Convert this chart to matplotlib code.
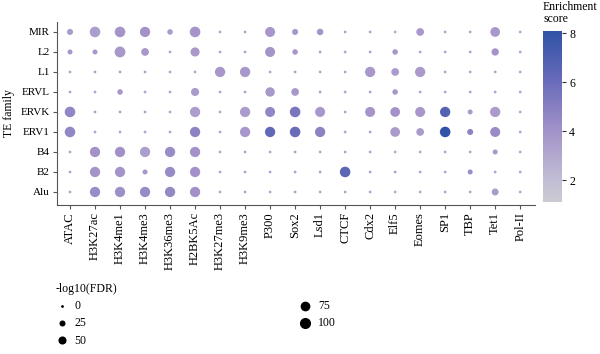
import matplotlib
matplotlib.use('Agg')
import matplotlib.pyplot as plt
import numpy as np
from matplotlib.colors import LinearSegmentedColormap, Normalize

marks = ['ATAC', 'H3K27ac', 'H3K4me1', 'H3K4me3', 'H3K36me3', 'H2BK5Ac', 'H3K27me3', 'H3K9me3',
         'P300', 'Sox2', 'Lsd1', 'CTCF', 'Cdx2', 'Elf5', 'Eomes', 'SP1', 'TBP', 'Tet1', 'Pol-II']
families = ['MIR', 'L2', 'L1', 'ERVL', 'ERVK', 'ERV1', 'B4', 'B2', 'Alu']

# -log10(FDR), one list per TE family
fdr_MIR = [25, 90, 90, 85, 20, 90, 0, 0, 80, 25, 30, 0, 0, 0, 45, 0, 0, 75, 0]
fdr_L2 = [15, 15, 95, 45, 0, 65, 0, 0, 80, 20, 0, 0, 0, 20, 0, 0, 0, 40, 0]
fdr_L1 = [0, 0, 0, 0, 0, 0, 85, 85, 0, 0, 0, 0, 85, 45, 85, 0, 0, 0, 0]
fdr_ERVL = [0, 0, 20, 0, 0, 50, 0, 0, 70, 45, 0, 0, 0, 20, 0, 0, 0, 0, 0]
fdr_ERVK = [90, 0, 0, 0, 0, 85, 0, 85, 80, 90, 80, 0, 80, 75, 80, 85, 15, 85, 0]
fdr_ERV1 = [90, 0, 0, 0, 0, 85, 0, 85, 85, 90, 85, 0, 0, 75, 45, 90, 25, 80, 0]
fdr_B4 = [0, 85, 85, 85, 85, 85, 0, 0, 0, 0, 0, 0, 0, 0, 0, 0, 0, 15, 0]
fdr_B2 = [0, 85, 85, 15, 85, 85, 0, 0, 0, 0, 0, 90, 0, 0, 0, 0, 15, 0, 0]
fdr_Alu = [0, 85, 85, 85, 85, 85, 0, 0, 0, 0, 0, 0, 0, 0, 0, 0, 0, 35, 0]

# enrichment score
enr_MIR = [3.6, 3.5, 3.9, 4.0, 3.6, 3.9, 3.2, 3.2, 3.8, 3.8, 3.9, 3.2, 3.2, 3.2, 3.7, 3.2, 3.2, 3.8, 3.2]
enr_L2 = [3.8, 3.8, 3.7, 3.8, 3.2, 3.7, 3.2, 3.2, 3.9, 3.8, 3.2, 3.2, 3.2, 3.8, 3.2, 3.2, 3.2, 3.9, 3.2]
enr_L1 = [3.2, 3.2, 3.2, 3.2, 3.2, 3.2, 3.8, 3.8, 3.2, 3.2, 3.2, 3.2, 3.7, 3.6, 3.6, 3.2, 3.2, 3.2, 3.2]
enr_ERVL = [3.2, 3.2, 3.8, 3.2, 3.2, 3.6, 3.2, 3.2, 3.7, 3.7, 3.2, 3.2, 3.2, 3.8, 3.2, 3.2, 3.2, 3.2, 3.2]
enr_ERVK = [4.6, 3.2, 3.2, 3.2, 3.2, 3.5, 3.2, 3.6, 4.6, 5.5, 3.8, 3.2, 3.9, 4.0, 3.8, 6.8, 3.6, 3.6, 3.2]
enr_ERV1 = [4.6, 3.2, 3.2, 3.2, 3.2, 4.8, 3.2, 3.8, 6.3, 6.0, 4.8, 3.2, 3.2, 3.6, 3.6, 8.0, 4.8, 4.3, 3.2]
enr_B4 = [3.2, 4.0, 4.1, 3.5, 4.3, 4.0, 3.2, 3.2, 3.2, 3.2, 3.2, 3.2, 3.2, 3.2, 3.2, 3.2, 3.2, 3.8, 3.2]
enr_B2 = [3.2, 3.9, 3.9, 3.8, 4.4, 4.0, 3.2, 3.2, 3.2, 3.2, 3.2, 6.5, 3.2, 3.2, 3.2, 3.2, 4.3, 3.2, 3.2]
enr_Alu = [3.2, 4.3, 4.2, 4.4, 4.5, 4.1, 3.2, 3.2, 3.2, 3.2, 3.2, 3.2, 3.2, 3.2, 3.2, 3.2, 3.2, 3.6, 3.2]

fdr = [fdr_MIR, fdr_L2, fdr_L1, fdr_ERVL, fdr_ERVK, fdr_ERV1, fdr_B4, fdr_B2, fdr_Alu]
enr = [enr_MIR, enr_L2, enr_L1, enr_ERVL, enr_ERVK, enr_ERV1, enr_B4, enr_B2, enr_Alu]

legend_vals = [0, 25, 50, 75, 100]

plt.rcParams['font.family'] = ['Liberation Serif', 'DejaVu Serif']

cmap = LinearSegmentedColormap.from_list(
    'enr', [(0.0, '#cbcbd3'), (0.13, '#c1bdd4'), (0.41, '#a493c9'),
            (0.70, '#6a6cba'), (1.0, '#3052a6')])
norm = Normalize(1.1, 8.1)

def size_of(v):
    return 4 + np.asarray(v) * 0.6

fig = plt.figure(figsize=(6, 3.54), dpi=100)
ax = fig.add_axes([0.095, 0.421, 0.797, 0.517])

for i, fam in enumerate(families):
    ax.scatter(np.arange(len(marks)), [i] * len(marks), s=size_of(fdr[i]),
               c=enr[i], cmap=cmap, norm=norm, linewidths=0, zorder=3)

ax.set_xlim(-0.52, 18.6)
ax.set_ylim(len(families) - 0.35, -0.5)
ax.set_xticks(range(len(marks)))
ax.set_xticklabels(marks, rotation=90, fontsize=9)
ax.set_yticks(range(len(families)))
ax.set_yticklabels(families, fontsize=8)
ax.set_ylabel('TE family', fontsize=8.5, labelpad=4)
for s in ['top', 'right']:
    ax.spines[s].set_visible(False)
for s in ['left', 'bottom']:
    ax.spines[s].set_color('#555555')
    ax.spines[s].set_linewidth(0.8)
ax.tick_params(color='#555555', length=3, width=0.8, pad=2)

# colorbar
cax = fig.add_axes([0.905, 0.429, 0.032, 0.484])
sm = plt.cm.ScalarMappable(norm=norm, cmap=cmap)
cb = fig.colorbar(sm, cax=cax, ticks=[2, 4, 6, 8])
cb.outline.set_visible(False)
cb.ax.tick_params(labelsize=8.5, length=3, width=0.8, color='#333333', pad=2)
fig.text(0.905, 0.997, 'Enrichment\nscore', fontsize=8.5, ha='left', va='top', linespacing=1.0)

# size legend
handles = [ax.scatter([], [], s=size_of(v), c='black', linewidths=0) for v in legend_vals]
fig.legend(handles, [str(v) for v in legend_vals], title='-log10(FDR)', ncol=2,
           loc='upper left', bbox_to_anchor=(0.085, 0.215), frameon=False,
           fontsize=8.5, title_fontsize=8.5, columnspacing=18, handletextpad=0.6,
           labelspacing=0.45, alignment='left', borderaxespad=0, handlelength=1)

plt.savefig('out.png', dpi=100)
